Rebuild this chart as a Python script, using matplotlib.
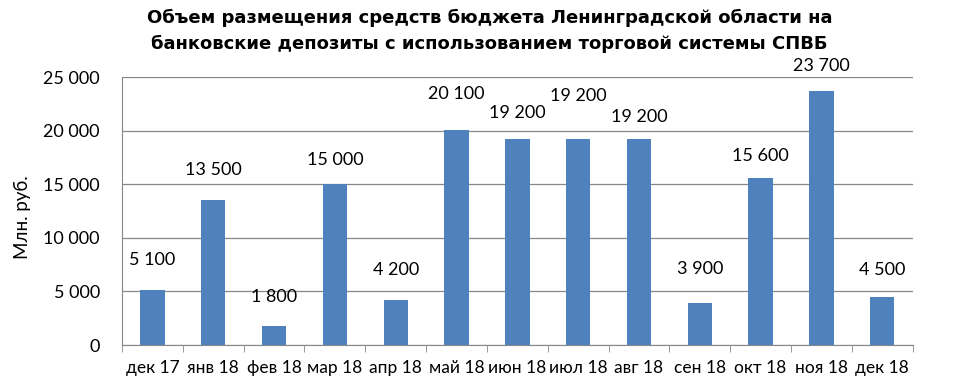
import matplotlib.pyplot as plt
from matplotlib.ticker import FuncFormatter

plt.rcParams['font.family'] = ['Lato', 'DejaVu Sans']

# data
months = ['дек 17', 'янв 18', 'фев 18', 'мар 18', 'апр 18', 'май 18', 'июн 18',
          'июл 18', 'авг 18', 'сен 18', 'окт 18', 'ноя 18', 'дек 18']
volumes = [5100, 13500, 1800, 15000, 4200, 20100, 19200,
           19200, 19200, 3900, 15600, 23700, 4500]

title = ('Объем размещения средств бюджета Ленинградской области на\n'
         'банковские депозиты с использованием торговой системы СПВБ')

# label offsets above bar tops, in pixels (labels in the original were hand placed)
label_dy = [30, 30, 29, 24, 30, 36, 26, 43, 22, 34, 22, 25, 27]


def fmt(v):
    return f'{int(v):,}'.replace(',', ' ')


fig = plt.figure(figsize=(9.73, 3.91), dpi=100)
ax = fig.add_axes([0.1254, 0.1176, 0.8126, 0.6854])

x = range(len(months))
bars = ax.bar(x, volumes, width=0.4, color='#4F81BD', zorder=3)

for bar, val, dy in zip(bars, volumes, label_dy):
    ax.annotate(fmt(val), (bar.get_x() + bar.get_width() / 2, bar.get_height()),
                xytext=(0, dy * 0.72), textcoords='offset points',
                ha='center', va='center', fontsize=13)

ax.set_xlim(-0.5, len(months) - 0.5)
ax.set_ylim(0, 25000)
ax.set_yticks(range(0, 25001, 5000))
ax.yaxis.set_major_formatter(FuncFormatter(lambda v, p: fmt(v)))
ax.set_xticks(list(x))
ax.set_xticklabels(months)
ax.set_xticks([i - 0.5 for i in range(len(months) + 1)], minor=True)

ax.grid(axis='y', color='#878787', linewidth=0.9, zorder=0)
for s in ['top', 'right']:
    ax.spines[s].set_visible(False)
ax.spines['left'].set_color('#878787')
ax.spines['bottom'].set_color('#878787')
ax.tick_params(axis='x', which='major', length=0, labelsize=12.5, pad=11)
ax.tick_params(axis='x', which='minor', length=5, color='#878787')
ax.tick_params(axis='y', length=0, labelsize=13, pad=16)

fig.text(0.0226, 0.445, 'Млн. руб.', rotation=90, ha='center', va='center',
         fontsize=13.5)
fig.text(0.503, 0.921, title, ha='center', va='center', fontsize=13,
         fontweight='bold', linespacing=1.5, family='DejaVu Sans')

plt.savefig('out.png', dpi=100)
